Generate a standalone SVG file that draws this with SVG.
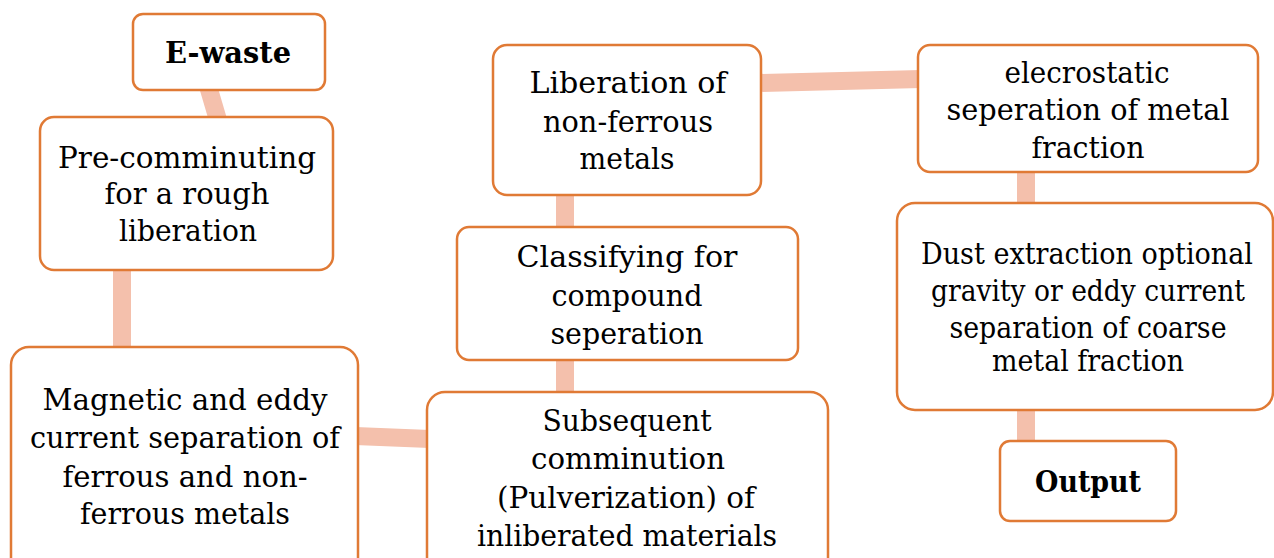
<svg xmlns="http://www.w3.org/2000/svg" width="1274" height="558" viewBox="0 0 1274 558">
  <style>
    .box { fill: #ffffff; stroke: #E07A35; stroke-width: 2.5; }
    .link { stroke: #F4C0AC; stroke-width: 18; fill: none; }
    .t { font-family: "DejaVu Serif", "Liberation Serif", serif; font-size: 30px; fill: #000; text-anchor: middle; }
    .b { font-weight: bold; }
  </style>
  <rect width="1274" height="558" fill="#ffffff"/>

  <!-- connectors between steps -->
  <g id="connectors">
    <line class="link" x1="208" y1="86" x2="218" y2="120"/>
    <line class="link" x1="122" y1="268" x2="122" y2="350"/>
    <line class="link" x1="355" y1="436" x2="430" y2="439"/>
    <line class="link" x1="565" y1="357" x2="565" y2="395"/>
    <line class="link" x1="565" y1="192" x2="565" y2="230"/>
    <line class="link" x1="758" y1="83" x2="921" y2="79"/>
    <line class="link" x1="1026" y1="170" x2="1026" y2="206"/>
    <line class="link" x1="1026" y1="408" x2="1026" y2="444"/>
  </g>

  <g id="n-ewaste">
    <rect class="box" x="133" y="14" width="192" height="76" rx="10"/>
    <text class="t b" x="228" y="63" textLength="126" lengthAdjust="spacingAndGlyphs">E-waste</text>
  </g>

  <g id="n-precomminuting">
    <rect class="box" x="40" y="117" width="293" height="153" rx="14"/>
    <text class="t" x="187" y="168" textLength="258" lengthAdjust="spacingAndGlyphs">Pre-comminuting</text>
    <text class="t" x="187" y="204" textLength="165" lengthAdjust="spacingAndGlyphs">for a rough</text>
    <text class="t" x="188" y="241" textLength="138" lengthAdjust="spacingAndGlyphs">liberation</text>
  </g>

  <g id="n-magnetic">
    <rect class="box" x="11" y="347" width="347" height="230" rx="18"/>
    <text class="t" x="185" y="410" textLength="285" lengthAdjust="spacingAndGlyphs">Magnetic and eddy</text>
    <text class="t" x="185" y="448" textLength="310" lengthAdjust="spacingAndGlyphs">current separation of</text>
    <text class="t" x="185" y="487" textLength="245" lengthAdjust="spacingAndGlyphs">ferrous and non-</text>
    <text class="t" x="185" y="524" textLength="210" lengthAdjust="spacingAndGlyphs">ferrous metals</text>
  </g>

  <g id="n-subsequent">
    <rect class="box" x="427" y="392" width="401" height="190" rx="18"/>
    <text class="t" x="627" y="431" textLength="169" lengthAdjust="spacingAndGlyphs">Subsequent</text>
    <text class="t" x="628" y="469" textLength="194" lengthAdjust="spacingAndGlyphs">comminution</text>
    <text class="t" x="626" y="508" textLength="258" lengthAdjust="spacingAndGlyphs">(Pulverization) of</text>
    <text class="t" x="627" y="546" textLength="300" lengthAdjust="spacingAndGlyphs">inliberated materials</text>
  </g>

  <g id="n-classifying">
    <rect class="box" x="457" y="227" width="341" height="133" rx="12"/>
    <text class="t" x="627" y="267" textLength="221" lengthAdjust="spacingAndGlyphs">Classifying for</text>
    <text class="t" x="627" y="306" textLength="151" lengthAdjust="spacingAndGlyphs">compound</text>
    <text class="t" x="627" y="344" textLength="153" lengthAdjust="spacingAndGlyphs">seperation</text>
  </g>

  <g id="n-liberation">
    <rect class="box" x="493" y="45" width="268" height="150" rx="14"/>
    <text class="t" x="628" y="93" textLength="197" lengthAdjust="spacingAndGlyphs">Liberation of</text>
    <text class="t" x="628" y="132" textLength="170" lengthAdjust="spacingAndGlyphs">non-ferrous</text>
    <text class="t" x="627" y="169" textLength="95" lengthAdjust="spacingAndGlyphs">metals</text>
  </g>

  <g id="n-electrostatic">
    <rect class="box" x="918" y="45" width="340" height="127" rx="12"/>
    <text class="t" x="1087" y="83" textLength="165" lengthAdjust="spacingAndGlyphs">elecrostatic</text>
    <text class="t" x="1088" y="120" textLength="283" lengthAdjust="spacingAndGlyphs">seperation of metal</text>
    <text class="t" x="1088" y="158" textLength="113" lengthAdjust="spacingAndGlyphs">fraction</text>
  </g>

  <g id="n-dust">
    <rect class="box" x="897" y="203" width="376" height="207" rx="18"/>
    <text class="t" x="1087" y="264" textLength="332" lengthAdjust="spacingAndGlyphs">Dust extraction optional</text>
    <text class="t" x="1088" y="301" textLength="314" lengthAdjust="spacingAndGlyphs">gravity or eddy current</text>
    <text class="t" x="1088" y="338" textLength="277" lengthAdjust="spacingAndGlyphs">separation of coarse</text>
    <text class="t" x="1088" y="371" textLength="192" lengthAdjust="spacingAndGlyphs">metal fraction</text>
  </g>

  <g id="n-output">
    <rect class="box" x="1000" y="441" width="176" height="80" rx="10"/>
    <text class="t b" x="1088" y="492" textLength="106" lengthAdjust="spacingAndGlyphs">Output</text>
  </g>
</svg>
